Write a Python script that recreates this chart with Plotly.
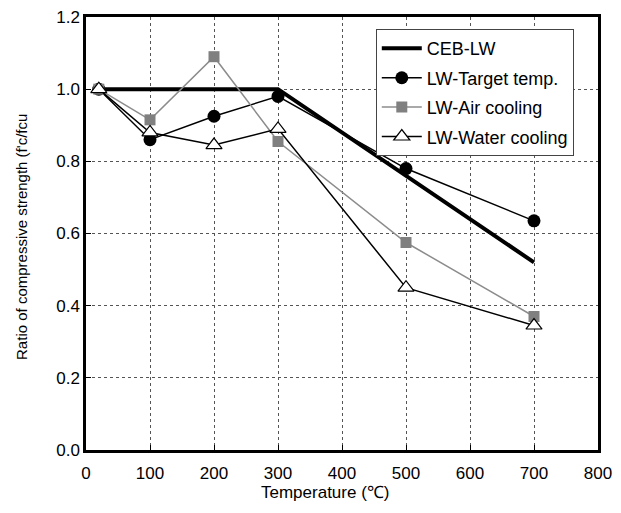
import plotly.graph_objects as go

ceb_x = [20, 300, 700]
ceb_y = [1.0, 1.0, 0.52]
temps = [20, 100, 200, 300, 500, 700]
target = [1.0, 0.86, 0.925, 0.98, 0.78, 0.635]
air = [1.0, 0.915, 1.09, 0.855, 0.575, 0.37]
water = [1.0, 0.88, 0.845, 0.89, 0.45, 0.345]

FONT = "Liberation Sans, Arial"

fig = go.Figure()
fig.add_trace(go.Scatter(x=ceb_x, y=ceb_y, mode="lines", name="CEB-LW", legendgroup="a",
                         line=dict(color="black", width=4)))
fig.add_trace(go.Scatter(x=temps, y=target, mode="lines+markers", name="LW-Target temp.", legendgroup="b",
                         line=dict(color="black", width=1.5),
                         marker=dict(symbol="circle", size=13, color="black")))
fig.add_trace(go.Scatter(x=temps, y=air, mode="lines+markers", name="LW-Air cooling", legendgroup="c",
                         line=dict(color="#8c8c8c", width=1.5),
                         marker=dict(symbol="square", size=11, color="#808080")))
fig.add_trace(go.Scatter(x=temps, y=water, mode="lines+markers", name="LW-Water cooling", legendgroup="d",
                         line=dict(color="black", width=1.5),
                         marker=dict(symbol="triangle-up", size=14, color="white",
                                     line=dict(color="black", width=1.2))))

axis_common = dict(showgrid=True, gridcolor="#555555", griddash="dot", gridwidth=1,
                   showline=True, linecolor="black", linewidth=2.5, mirror=True,
                   ticks="inside", ticklen=5, tickcolor="black", zeroline=False,
                   ticklabeloverflow="allow",
                   tickfont=dict(family=FONT, size=17, color="black"))

fig.update_xaxes(range=[0, 800], dtick=100, tick0=0, ticklabelstandoff=6, **axis_common)
fig.update_yaxes(range=[0, 1.2], dtick=0.2, tickformat=".1f", **axis_common)

fig.add_annotation(text="Temperature (℃)", xref="paper", yref="paper",
                   x=0.467, y=-0.097, xanchor="center", yanchor="middle", showarrow=False,
                   font=dict(family=FONT, size=17, color="black"))
fig.add_annotation(text="Ratio of compressive strength (f'c/fcu", xref="paper", yref="paper",
                   x=-0.125, y=0.492, xanchor="center", yanchor="middle", showarrow=False,
                   textangle=-90, font=dict(family=FONT, size=15, color="black"))

fig.update_layout(
    width=621, height=513,
    margin=dict(l=78, r=31, t=9, b=71, autoexpand=False),
    plot_bgcolor="white", paper_bgcolor="white",
    font=dict(family=FONT, color="black"),
    legend=dict(x=0.566, y=0.972, xanchor="left", yanchor="top",
                bgcolor="white", bordercolor="#444444", borderwidth=1,
                font=dict(size=18, color="black"), itemwidth=40,
                traceorder="grouped", tracegroupgap=3),
)

fig.write_html("out.html")
